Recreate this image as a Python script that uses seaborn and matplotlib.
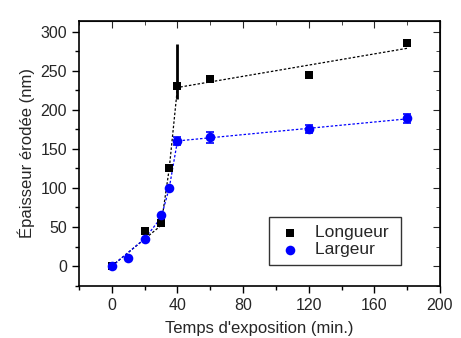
import numpy as np
import pandas as pd
import matplotlib
matplotlib.use("Agg")
import matplotlib.pyplot as plt
import seaborn as sns

# Donnees
t_long = [0, 20, 30, 35, 40, 60, 120, 180]
e_long = [0, 45, 55, 125, 230, 240, 245, 285]
err_long_bas = [0, 0, 0, 0, 16, 0, 0, 0]
err_long_haut = [0, 0, 0, 0, 54, 0, 0, 0]

t_larg = [0, 10, 20, 30, 35, 40, 60, 120, 180]
e_larg = [0, 10, 35, 65, 100, 160, 165, 175, 189]
err_larg = [0, 0, 0, 0, 0, 5, 7, 5, 6]

# debut de courbe (traits pointilles avant 40 min)
t_debut_long = [0, 30, 35, 40]
e_debut_long = [0, 52, 125, 230]
t_debut_larg = [0, 20, 30, 35, 40]
e_debut_larg = [0, 35, 62, 100, 160]

sns.set_style("ticks")
plt.rcParams['font.family'] = ['Liberation Sans', 'DejaVu Sans']

df_long = pd.DataFrame({"t": t_long, "e": e_long})
df_larg = pd.DataFrame({"t": t_larg, "e": e_larg})

# Regression lineaire sur le plateau (t >= 40)
p_long = np.polyfit(t_long[4:], e_long[4:], 1)
p_larg = np.polyfit(t_larg[5:], e_larg[5:], 1)
x_fit = np.array([40, 180])
fit_long = pd.DataFrame({"t": list(t_debut_long) + [180],
                         "e": list(e_debut_long[:-1]) + list(np.polyval(p_long, x_fit))})
fit_larg = pd.DataFrame({"t": list(t_debut_larg) + [180],
                         "e": list(e_debut_larg[:-1]) + list(np.polyval(p_larg, x_fit))})

fig = plt.figure(figsize=(4.61, 3.38), dpi=100)
ax = fig.add_axes([0.1714, 0.1538, 0.783, 0.785])

sns.lineplot(data=fit_long, x="t", y="e", color="black", lw=0.9,
             linestyle=(0, (2, 1.5)), sort=False, ax=ax)
sns.lineplot(data=fit_larg, x="t", y="e", color="blue", lw=0.9,
             linestyle=(0, (2, 1.5)), sort=False, ax=ax)

ax.errorbar(t_long, e_long, yerr=[err_long_bas, err_long_haut], fmt="none",
            ecolor="black", elinewidth=2, capsize=0)
ax.errorbar(t_larg, e_larg, yerr=err_larg, fmt="none",
            ecolor="blue", elinewidth=1.2, capsize=3, capthick=1.2)

sns.scatterplot(data=df_long, x="t", y="e", marker="s", color="black", s=36,
                edgecolor="black", linewidth=0, label="Longueur ", ax=ax, zorder=5)
sns.scatterplot(data=df_larg, x="t", y="e", marker="o", color="blue", s=48,
                edgecolor="blue", linewidth=0, label="Largeur ", ax=ax, zorder=5)

ax.set_xlim(-20, 200)
ax.set_ylim(-25.5, 314)
ax.set_xticks([0, 40, 80, 120, 160, 200])
ax.set_xticks(np.arange(-20, 201, 20), minor=True)
ax.set_yticks([0, 50, 100, 150, 200, 250, 300])
ax.set_yticks(np.arange(-25, 314, 25), minor=True)

ax.tick_params(which="both", direction="out", labelsize=11.5, width=1, color="black")
ax.tick_params(which="major", length=5)
ax.tick_params(which="minor", length=3)
for s in ax.spines.values():
    s.set_linewidth(1.2)
    s.set_color("black")

# ticks miroirs vers l'interieur en haut et a droite
ax2 = ax.secondary_xaxis("top")
ax2.set_xticks([0, 40, 80, 120, 160, 200])
ax2.set_xticks(np.arange(-20, 201, 20), minor=True)
ax2.tick_params(which="both", direction="in", labeltop=False)
ax2.tick_params(which="major", length=5)
ax2.tick_params(which="minor", length=3)
ax3 = ax.secondary_yaxis("right")
ax3.set_yticks([0, 50, 100, 150, 200, 250, 300])
ax3.set_yticks(np.arange(-25, 314, 25), minor=True)
ax3.tick_params(which="both", direction="in", labelright=False)
ax3.tick_params(which="major", length=5)
ax3.tick_params(which="minor", length=3)

ax.set_xlabel("Temps d'exposition (min.)", fontsize=12, labelpad=6)
ax.set_ylabel("Épaisseur érodée (nm)", fontsize=12, labelpad=4)

leg = ax.legend(loc="lower right", bbox_to_anchor=(0.892, 0.079), fontsize=12.5,
                frameon=True, fancybox=False, edgecolor="black",
                handletextpad=0.68, handlelength=1.52, borderpad=0.45,
                labelspacing=0.1, borderaxespad=0)
leg.get_frame().set_linewidth(1)

fig.savefig("out.png", dpi=100)
